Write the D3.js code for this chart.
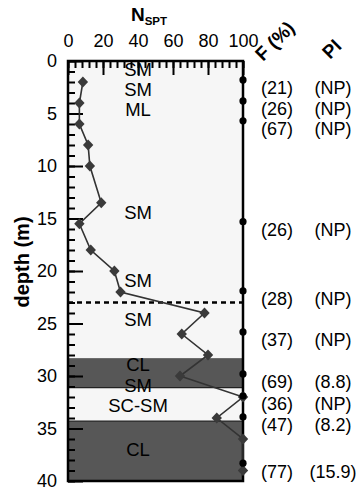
<!DOCTYPE html>
<html><head><meta charset="utf-8">
<script src="https://cdn.jsdelivr.net/npm/d3@7"></script>
<style>body{margin:0;background:#fff}svg{display:block;font-family:"Liberation Sans",Arial,sans-serif}</style>
</head><body>
<svg id="c" width="358" height="490"></svg>
<script>
const nsptDepth = [2,4,6,8,10,13.5,15.5,18,20,22,24,26,28,30,32,34,36,39];
const nsptValue = [8.5,6.5,6.5,11.5,12.5,19,6.5,13,26.5,30,78,65,80,64,100,85,100,100];
const fDepth = [1.8,3.8,5.7,15.3,21.9,25.8,29.8,31.9,33.9,38.3];
const fLabels = ["(21)","(26)","(67)","(26)","(28)","(37)","(69)","(36)","(47)","(77)"];
const piLabels = ["(NP)","(NP)","(NP)","(NP)","(NP)","(NP)","(8.8)","(NP)","(8.2)","(15.9)"];
const soilNames = ["SM","SM","ML","SM","SM","SM","CL","SM","SC-SM","CL"];
const soilDepth = [0.8,2.7,4.6,14.4,20.9,24.6,28.9,30.9,32.8,37.0];
const darkTop = [28.3,34.3];
const darkBottom = [31.1,40];
const waterDepth = 23;
const xTicks = [0,20,40,60,80,100];
const yTicks = [0,5,10,15,20,25,30,35,40];

const svg = d3.select("#c");
const x = d3.scaleLinear().domain([0,100]).range([68,243]);
const y = d3.scaleLinear().domain([0,40]).range([61,481]);

// background
svg.append("rect").attr("x",x(0)).attr("y",y(0)).attr("width",x(100)-x(0)).attr("height",y(40)-y(0)).attr("fill","#f6f6f6");
svg.selectAll(".dark").data(darkTop).enter().append("rect")
  .attr("x",x(0)).attr("width",x(100)-x(0))
  .attr("y",d=>y(d)).attr("height",(d,i)=>y(darkBottom[i])-y(d)).attr("fill","#575757");
svg.append("line").attr("x1",x(0)).attr("x2",x(100)).attr("y1",y(darkBottom[0])).attr("y2",y(darkBottom[0])).attr("stroke","#222").attr("stroke-width",1.2);
svg.append("line").attr("x1",x(0)).attr("x2",x(100)).attr("y1",y(darkTop[1])).attr("y2",y(darkTop[1])).attr("stroke","#222").attr("stroke-width",1.2);

// water table dashed
svg.append("line").attr("x1",x(0)).attr("x2",x(100)).attr("y1",y(waterDepth)).attr("y2",y(waterDepth))
  .attr("stroke","#000").attr("stroke-width",2.5).attr("stroke-dasharray","5,4");

// soil labels
svg.selectAll(".soil").data(soilNames).enter().append("text")
  .attr("x",138).attr("y",(d,i)=>y(soilDepth[i])).attr("dy","0.36em")
  .attr("text-anchor","middle").attr("font-size",18.5).attr("fill","#000").text(d=>d);

// axes
const topMinor = d3.axisTop(x).tickValues(d3.range(0,101,4)).tickSize(-7).tickFormat("");
const topMajor = d3.axisTop(x).tickValues(xTicks).tickSize(-14).tickPadding(14);
const leftMinor = d3.axisLeft(y).tickValues(d3.range(0,41,1)).tickSize(-7).tickFormat("");
const leftMajor = d3.axisLeft(y).tickValues(yTicks).tickSize(-15).tickPadding(11);
function style(g){g.selectAll(".domain").remove();g.selectAll("line").attr("stroke","#000").attr("stroke-width",2);
  g.selectAll("text").attr("font-size",18).attr("fill","#000").attr("font-family","Liberation Sans, Arial, sans-serif");}
svg.append("g").attr("transform",`translate(0,${y(0)})`).call(topMinor).call(style);
svg.append("g").attr("transform",`translate(0,${y(0)})`).call(topMajor).call(style);
svg.append("g").attr("transform",`translate(${x(0)},0)`).call(leftMinor).call(style);
svg.append("g").attr("transform",`translate(${x(0)},0)`).call(leftMajor).call(style);

// frame
svg.append("rect").attr("x",x(0)).attr("y",y(0)).attr("width",x(100)-x(0)).attr("height",y(40)-y(0))
  .attr("fill","none").attr("stroke","#000").attr("stroke-width",2.5);

// NSPT line
const pts = nsptDepth.map((d,i)=>[nsptValue[i],d]);
svg.append("path").datum(pts).attr("fill","none").attr("stroke","#333").attr("stroke-width",1.6)
  .attr("d",d3.line().x(d=>x(d[0])).y(d=>y(d[1])));
svg.selectAll(".dia").data(pts).enter().append("path")
  .attr("transform",d=>`translate(${x(d[0])},${y(d[1])})`)
  .attr("d","M0,-5.5L5.2,0L0,5.5L-5.2,0Z").attr("fill","#3a3a3a");

// F points
svg.selectAll(".fdot").data(fDepth).enter().append("circle")
  .attr("cx",x(100)).attr("cy",d=>y(d)).attr("r",3.6).attr("fill","#000");
svg.selectAll(".flab").data(fLabels).enter().append("text")
  .attr("x",277).attr("y",(d,i)=>y(fDepth[i])+8).attr("dy","0.36em").attr("text-anchor","middle")
  .attr("font-size",18).attr("fill","#000").text(d=>d);
svg.selectAll(".plab").data(piLabels).enter().append("text")
  .attr("x",333).attr("y",(d,i)=>y(fDepth[i])+8).attr("dy","0.36em").attr("text-anchor","middle")
  .attr("font-size",18).attr("fill","#000").text(d=>d);

// titles
const t = svg.append("text").attr("x",149).attr("y",21).attr("text-anchor","middle").attr("font-weight","bold").attr("fill","#000");
t.append("tspan").attr("font-size",19).text("N");
t.append("tspan").attr("font-size",11.5).attr("dy",4).text("SPT");
svg.append("text").attr("transform","translate(263,62) rotate(-45)").attr("font-size",19).attr("font-weight","bold").text("F (%)");
svg.append("text").attr("transform","translate(330,60) rotate(-45)").attr("font-size",19).attr("font-weight","bold").text("PI");
svg.append("text").attr("transform","translate(29,262) rotate(-90)").attr("text-anchor","middle")
  .attr("font-size",20).attr("font-weight","bold").text("depth (m)");
</script>
</body></html>
